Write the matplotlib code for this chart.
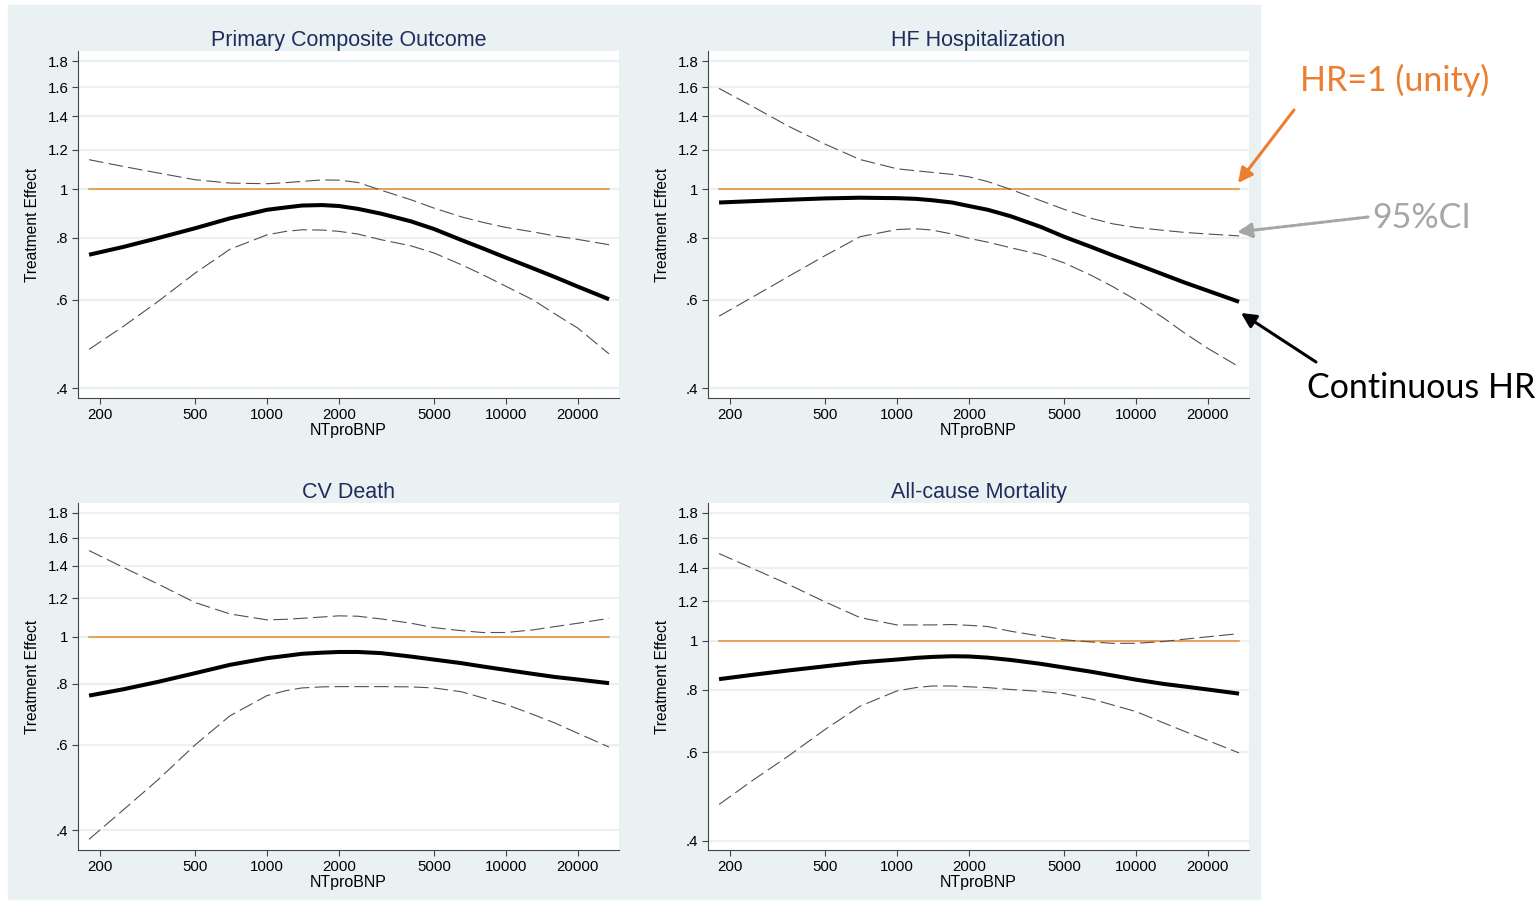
import numpy as np
import matplotlib
matplotlib.use("Agg")
import matplotlib.pyplot as plt
from matplotlib.patches import Rectangle, FancyArrowPatch
from matplotlib.ticker import FixedLocator, NullLocator

W, H = 1539, 901

ntprobnp = [180, 250, 350, 500, 700, 1000, 1200, 1400, 1700, 2000, 2400, 3000, 4000,
            5000, 6500, 8000, 10000, 13000, 16000, 20000, 27000]

titles = ["Primary Composite Outcome", "HF Hospitalization", "CV Death", "All-cause Mortality"]

hr_primary = [0.739, 0.766, 0.798, 0.835, 0.874, 0.909, 0.919, 0.927, 0.929, 0.925, 0.913, 0.893, 0.862,
              0.832, 0.791, 0.761, 0.729, 0.694, 0.667, 0.638, 0.602]
hi_primary = [1.145, 1.110, 1.077, 1.044, 1.028, 1.025, 1.030, 1.036, 1.043, 1.042, 1.031, 0.995, 0.952,
              0.916, 0.880, 0.858, 0.838, 0.821, 0.806, 0.793, 0.774]
lo_primary = [0.478, 0.531, 0.596, 0.679, 0.758, 0.810, 0.823, 0.829, 0.828, 0.823, 0.813, 0.792, 0.770,
              0.745, 0.706, 0.674, 0.639, 0.600, 0.563, 0.527, 0.468]

hr_hf = [0.940, 0.946, 0.952, 0.958, 0.961, 0.959, 0.956, 0.950, 0.940, 0.925, 0.909, 0.882, 0.840,
         0.803, 0.766, 0.737, 0.708, 0.675, 0.650, 0.626, 0.595]
hi_hf = [1.590, 1.461, 1.337, 1.230, 1.146, 1.098, 1.088, 1.080, 1.070, 1.058, 1.035, 0.998, 0.948,
         0.911, 0.874, 0.852, 0.838, 0.827, 0.819, 0.813, 0.806]
lo_hf = [0.557, 0.609, 0.668, 0.736, 0.803, 0.830, 0.833, 0.828, 0.813, 0.797, 0.783, 0.763, 0.739,
         0.712, 0.672, 0.638, 0.600, 0.553, 0.515, 0.480, 0.441]

hr_cv = [0.757, 0.780, 0.808, 0.842, 0.876, 0.904, 0.914, 0.923, 0.928, 0.931, 0.931, 0.926, 0.911,
         0.898, 0.883, 0.869, 0.855, 0.839, 0.827, 0.817, 0.803]
hi_cv = [1.506, 1.391, 1.285, 1.177, 1.115, 1.084, 1.087, 1.092, 1.099, 1.105, 1.103, 1.089, 1.067,
         1.045, 1.030, 1.021, 1.021, 1.034, 1.050, 1.067, 1.092]
lo_cv = [0.383, 0.440, 0.508, 0.599, 0.688, 0.757, 0.775, 0.785, 0.789, 0.790, 0.790, 0.790, 0.789,
         0.785, 0.771, 0.749, 0.726, 0.692, 0.665, 0.633, 0.593]

hr_all = [0.839, 0.856, 0.873, 0.890, 0.906, 0.918, 0.925, 0.929, 0.932, 0.931, 0.926, 0.916, 0.900,
          0.885, 0.868, 0.853, 0.837, 0.821, 0.811, 0.800, 0.785]
hi_all = [1.493, 1.393, 1.297, 1.196, 1.113, 1.076, 1.076, 1.076, 1.078, 1.074, 1.068, 1.045, 1.022,
          1.005, 0.995, 0.989, 0.989, 0.997, 1.008, 1.019, 1.034]
lo_all = [0.472, 0.528, 0.589, 0.666, 0.741, 0.795, 0.807, 0.813, 0.813, 0.810, 0.807, 0.800, 0.793,
          0.785, 0.766, 0.745, 0.723, 0.687, 0.660, 0.633, 0.598]

y_ticks = [0.4, 0.6, 0.8, 1, 1.2, 1.4, 1.6, 1.8]
y_labels = [".4", ".6", ".8", "1", "1.2", "1.4", "1.6", "1.8"]
x_ticks = [200, 500, 1000, 2000, 5000, 10000, 20000]
x_labels = ["200", "500", "1000", "2000", "5000", "10000", "20000"]

BG = "#EAF1F3"
ORANGE = "#E8892B"

plt.rcParams.update({"font.family": ["Liberation Sans", "DejaVu Sans"],
                     "lines.scale_dashes": False})

fig = plt.figure(figsize=(W / 100, H / 100), dpi=100)
fig.add_artist(Rectangle((8 / W, 2 / H), (1260 - 8) / W, (896 - 2) / H,
                         transform=fig.transFigure, color=BG, zorder=-5))

# (left, top, right, bottom) in pixels, plus y limits
panels = [
    ((78, 51, 619, 398), (0.382, 1.889), hr_primary, hi_primary, lo_primary),
    ((708, 51, 1249, 398), (0.382, 1.889), hr_hf, hi_hf, lo_hf),
    ((78, 503, 619, 850), (0.364, 1.887), hr_cv, hi_cv, lo_cv),
    ((708, 503, 1249, 850), (0.383, 1.883), hr_all, hi_all, lo_all),
]

for i, ((l, t, r, b), ylim, hr, hi, lo) in enumerate(panels):
    ax = fig.add_axes([l / W, 1 - b / H, (r - l) / W, (b - t) / H])
    ax.set_facecolor("white")
    ax.set_xscale("log")
    ax.set_yscale("log")
    ax.set_xlim(161.8, 29720)
    ax.set_ylim(*ylim)
    for yt in y_ticks:
        ax.axhline(yt, color=BG, lw=1.6, zorder=0)
    ax.plot([ntprobnp[0], ntprobnp[-1]], [1, 1], color=ORANGE, lw=1.1, zorder=2)
    ax.plot(ntprobnp, hi, color="#505050", lw=0.8, dashes=(10.5, 3.8), zorder=3)
    ax.plot(ntprobnp, lo, color="#505050", lw=0.8, dashes=(10.5, 3.8), zorder=3)
    ax.plot(ntprobnp, hr, color="black", lw=2.9, solid_capstyle="butt",
            solid_joinstyle="round", zorder=4)

    ax.yaxis.set_major_locator(FixedLocator(y_ticks))
    ax.yaxis.set_minor_locator(NullLocator())
    ax.set_yticklabels(y_labels)
    ax.xaxis.set_major_locator(FixedLocator(x_ticks))
    ax.xaxis.set_minor_locator(NullLocator())
    ax.set_xticklabels(x_labels)
    ax.tick_params(labelsize=10.8, length=4, width=0.8, color="#444444", pad=3)
    for s in ("top", "right"):
        ax.spines[s].set_visible(False)
    for s in ("left", "bottom"):
        ax.spines[s].set_color("#444444")
        ax.spines[s].set_linewidth(0.8)
    ax.set_ylabel("Treatment Effect", fontsize=11.2, labelpad=5)
    ax.set_xlabel("NTproBNP", fontsize=11.5, labelpad=1)
    ax.set_title(titles[i], fontsize=15.5, color="#1F2D5C", pad=3)

# right-hand annotations
tkw = dict(family=["Lato", "DejaVu Sans"], fontsize=24.5, va="center", ha="left")
fig.text(1300 / W, 1 - 80 / H, "HR=1 (unity)", color="#ED7D31", **tkw)
fig.text(1372 / W, 1 - 218 / H, "95%CI", color="#A6A6A6", **tkw)
fig.text(1307 / W, 1 - 388 / H, "Continuous HR", color="black", **tkw)

arrows = [((1294, 110), (1238, 183), "#ED7D31", "-"),
          ((1368, 217), (1237, 232), "#A6A6A6", "--"),
          ((1316, 362), (1241, 313), "black", "-")]
for (x0, y0), (x1, y1), c, ls in arrows:
    fig.add_artist(FancyArrowPatch((x0 / W, 1 - y0 / H), (x1 / W, 1 - y1 / H),
                                   transform=fig.transFigure, arrowstyle="-|>",
                                   color=c, lw=2.2, ls=ls, mutation_scale=22,
                                   shrinkA=0, shrinkB=0, zorder=10))

fig.savefig("out.png", dpi=100)
